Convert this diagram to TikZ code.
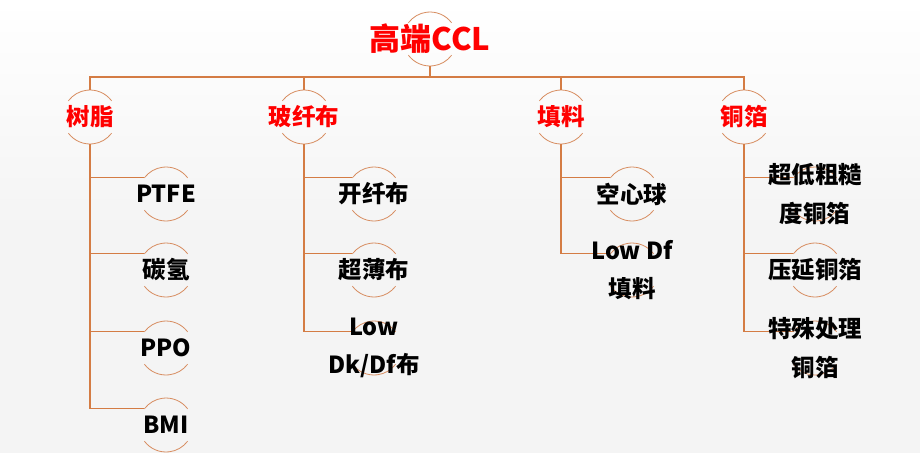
\documentclass[tikz,border=0pt]{standalone}
\usepackage{fontspec}
\setmainfont{Noto Sans CJK SC}
\definecolor{lineC}{RGB}{212,124,68}
\definecolor{ringC}{RGB}{215,140,95}
\definecolor{redC}{RGB}{255,0,0}
\definecolor{bgA}{RGB}{255,255,255}
\definecolor{bgB}{RGB}{244,244,244}
\tikzset{
  ring/.style={circle,minimum size=54pt,inner sep=0pt,outer sep=0pt},
  ringline/.style={draw=ringC,line width=0.8pt},
  conn/.style={draw=lineC,line width=1.4pt},
  toplabel/.style={text=redC,font=\fontsize{31}{36}\selectfont\bfseries,inner sep=0pt},
  catlabel/.style={text=redC,font=\fontsize{23.5}{28}\selectfont\bfseries,inner sep=0pt},
  itemlabel/.style={text=black,font=\fontsize{23.5}{38.5}\selectfont\bfseries,inner sep=0pt,align=center},
}
\newcommand\ringarcs[1]{%
  \draw[ringline] (#1.37) arc[start angle=37,end angle=143,radius=27pt];
  \draw[ringline] (#1.217) arc[start angle=217,end angle=323,radius=27pt];}
\begin{document}
\begin{tikzpicture}[x=1pt,y=1pt]
\useasboundingbox (0,0) rectangle (920,-453);
\shade[top color=bgA,bottom color=bgB] (0,0) rectangle (920,-230);
\fill[bgB] (0,-230) rectangle (920,-453);
% ring nodes
\node[ring] (top) at (430,-39) {};
\node[ring] (a) at (90,-117) {};
\node[ring] (b) at (304,-117) {};
\node[ring] (c) at (561,-117) {};
\node[ring] (d) at (744,-117) {};
\node[ring] (a1) at (166,-194) {};
\node[ring] (a2) at (166,-270) {};
\node[ring] (a3) at (166,-348) {};
\node[ring] (a4) at (166,-425) {};
\node[ring] (b1) at (374,-194) {};
\node[ring] (b2) at (374,-270) {};
\node[ring] (b3) at (374,-348) {};
\node[ring] (c1) at (632,-194) {};
\node[ring] (c2) at (632,-270) {};
\node[ring] (d1) at (815,-194) {};
\node[ring] (d2) at (815,-270) {};
\node[ring] (d3) at (815,-348) {};
\foreach \n in {top,a,b,c,d,a1,a2,a3,a4,b1,b2,b3,c1,c2,d1,d2,d3}{\ringarcs{\n}}
% connectors
\coordinate (bus) at (430,-77);
\draw[conn] (top.south) -- (top.south |- bus);
\draw[conn] (a.north) -- (a.north |- bus) -- (d.north |- bus) -- (d.north);
\draw[conn] (b.north) -- (b.north |- bus);
\draw[conn] (c.north) -- (c.north |- bus);
\foreach \p/\k in {a/a1,a/a2,a/a3,a/a4,b/b1,b/b2,b/b3,c/c1,c/c2,d/d1,d/d2,d/d3}{
  \draw[conn] (\p.south) |- (\k.143);}
% labels
\node[toplabel] (top-t) at (top) {高端CCL};
\node[catlabel] (a-t) at (a) {树脂};
\node[catlabel] (b-t) at (b) {玻纤布};
\node[catlabel] (c-t) at (c) {填料};
\node[catlabel] (d-t) at (d) {铜箔};
\node[itemlabel] (a1-t) at (a1) {PTFE};
\node[itemlabel] (a2-t) at (a2) {碳氢};
\node[itemlabel] (a3-t) at (a3) {PPO};
\node[itemlabel] (a4-t) at (a4) {BMI};
\node[itemlabel] (b1-t) at (b1) {开纤布};
\node[itemlabel] (b2-t) at (b2) {超薄布};
\node[itemlabel] (b3-t) at (b3) {Low\\Dk/Df布};
\node[itemlabel] (c1-t) at (c1) {空心球};
\node[itemlabel] (c2-t) at (c2) {Low Df\\填料};
\node[itemlabel] (d1-t) at (d1) {超低粗糙\\度铜箔};
\node[itemlabel] (d2-t) at (d2) {压延铜箔};
\node[itemlabel] (d3-t) at (d3) {特殊处理\\铜箔};
\end{tikzpicture}
\end{document}
